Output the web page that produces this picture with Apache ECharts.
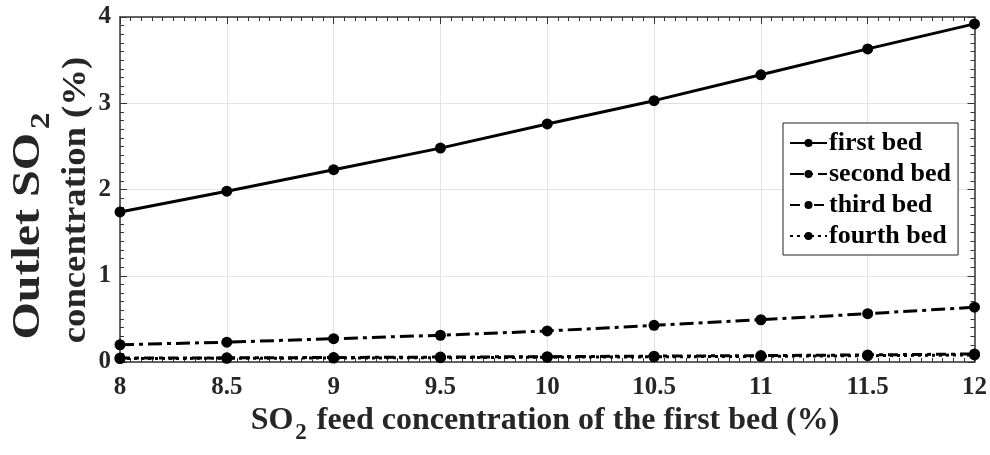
<!DOCTYPE html>
<html>
<head>
<meta charset="utf-8">
<script src="https://cdn.jsdelivr.net/npm/echarts@6/dist/echarts.min.js"></script>
<style>
  html, body { margin: 0; padding: 0; background: #fff; }
  #chart { width: 990px; height: 455px; }
</style>
</head>
<body>
<div id="chart"></div>
<script>
// SO2 feed concentration of the first bed (%)
const feed = [8, 8.5, 9, 9.5, 10, 10.5, 11, 11.5, 12];
// Outlet SO2 concentration (%) after each bed
const firstBed  = [1.74, 1.98, 2.23, 2.48, 2.76, 3.03, 3.33, 3.63, 3.92];
const secondBed = [0.20, 0.23, 0.27, 0.31, 0.36, 0.425, 0.49, 0.56, 0.635];
const thirdBed  = [0.045, 0.048, 0.052, 0.057, 0.062, 0.068, 0.074, 0.082, 0.093];
const fourthBed = [0.040, 0.043, 0.046, 0.050, 0.055, 0.060, 0.066, 0.073, 0.082];
const seriesNames = ['first bed', 'second bed', 'third bed', 'fourth bed'];
const xTicks = { min: 8, max: 12, step: 0.5 };
const yTicks = { min: 0, max: 4, step: 1 };

const FONT = '"Liberation Serif", "Times New Roman", serif';
const INK = '#262626';
const chart = echarts.init(document.getElementById('chart'), null, { renderer: 'canvas' });

const pairs = (ys) => feed.map((x, i) => [x, ys[i]]);

function lineSeries(name, ys, dash) {
  return {
    name: name,
    type: 'line',
    data: pairs(ys),
    symbol: 'circle',
    symbolSize: 11,
    itemStyle: { color: '#000' },
    lineStyle: { color: '#000', width: 3, type: dash },
    emphasis: { disabled: true },
    animation: false
  };
}

const tickStyle = { lineStyle: { color: '#333', width: 1 } };

function axisCommon(extra) {
  return Object.assign({
    type: 'value',
    axisLine: { show: true, onZero: false, lineStyle: { color: '#333', width: 1.5 } },
    axisTick: Object.assign({ show: true, inside: true, length: 7 }, tickStyle),
    minorTick: Object.assign({ show: true, splitNumber: 10, length: 4 }, tickStyle),
    splitLine: { show: false },
    axisLabel: { show: false }
  }, extra);
}

const tickLabel = { show: true, color: INK, fontFamily: FONT, fontWeight: 'bold', fontSize: 25 };

chart.setOption({
  backgroundColor: '#fff',
  animation: false,
  grid: { left: 120, right: 13, top: 17, bottom: 93 },
  xAxis: [
    axisCommon({
      position: 'bottom', min: xTicks.min, max: xTicks.max, interval: xTicks.step,
      splitLine: { show: true, lineStyle: { color: '#e3e3e3', width: 1 } },
      axisLabel: Object.assign({ margin: 13 }, tickLabel)
    }),
    axisCommon({ position: 'top', min: xTicks.min, max: xTicks.max, interval: xTicks.step })
  ],
  yAxis: [
    axisCommon({
      position: 'left', min: yTicks.min, max: yTicks.max, interval: yTicks.step,
      splitLine: { show: true, lineStyle: { color: '#e3e3e3', width: 1 } },
      axisLabel: Object.assign({ margin: 9 }, tickLabel)
    }),
    axisCommon({ position: 'right', min: yTicks.min, max: yTicks.max, interval: yTicks.step })
  ],
  legend: {
    orient: 'vertical',
    left: 783,
    top: 123,
    data: seriesNames,
    itemWidth: 37,
    itemHeight: 10,
    itemGap: 3,
    padding: [6, 7, 5, 6],
    backgroundColor: '#fff',
    borderColor: '#222',
    borderWidth: 1,
    borderRadius: 0,
    textStyle: {
      fontFamily: FONT, fontWeight: 'bold', fontSize: 26, lineHeight: 28,
      color: '#000', padding: [0, 0, 0, -3]
    }
  },
  series: [
    lineSeries(seriesNames[0], firstBed, 'solid'),
    lineSeries(seriesNames[1], secondBed, [14, 5, 4, 5]),
    lineSeries(seriesNames[2], thirdBed, [10, 5, 4, 5]),
    lineSeries(seriesNames[3], fourthBed, [3, 4])
  ],
  graphic: [
    {
      type: 'text',
      x: 29, y: 226,
      rotation: Math.PI / 2,
      scaleX: 1.2,
      style: {
        text: '{m|Outlet SO}{s|2}',
        align: 'center',
        verticalAlign: 'middle',
        fill: INK,
        rich: {
          m: { fontFamily: FONT, fontWeight: 'bold', fontSize: 40, fill: INK, lineHeight: 44 },
          s: { fontFamily: FONT, fontWeight: 'bold', fontSize: 28, fill: INK, lineHeight: 44, padding: [26, 0, 0, 3] }
        }
      }
    },
    {
      type: 'text',
      x: 76, y: 200,
      rotation: Math.PI / 2,
      scaleX: 1.08,
      style: {
        text: 'concentration (%)',
        align: 'center',
        verticalAlign: 'middle',
        fill: INK,
        font: 'bold 34px ' + FONT
      }
    },
    {
      type: 'text',
      x: 545, y: 421,
      style: {
        text: '{m|SO}{s|2}{m| feed concentration of the first bed (%)}',
        align: 'center',
        verticalAlign: 'middle',
        fill: INK,
        rich: {
          m: { fontFamily: FONT, fontWeight: 'bold', fontSize: 32, fill: INK, lineHeight: 36 },
          s: { fontFamily: FONT, fontWeight: 'bold', fontSize: 23, fill: INK, lineHeight: 36, padding: [24, 2, 0, 2] }
        }
      }
    }
  ]
});
</script>
</body>
</html>
